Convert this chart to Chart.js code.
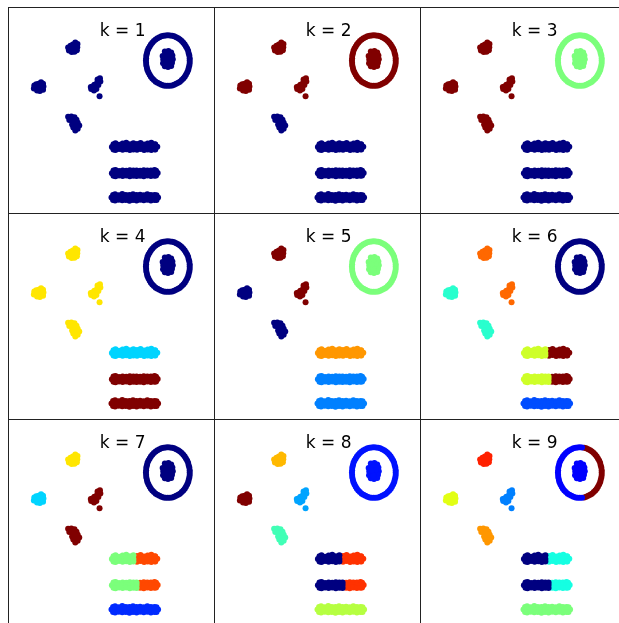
<!DOCTYPE html>
<html>
<head>
<meta charset="utf-8">
<script src="https://cdn.jsdelivr.net/npm/chart.js@4/dist/chart.umd.min.js"></script>
<style>
  html, body { margin: 0; padding: 0; background: #fff; overflow: hidden; }
  .panel {
    position: absolute;
    width: 205px;
    height: 205px;
    border: 1px solid #222;
  }
  .panel canvas { display: block; }
</style>
</head>
<body>
<script>
// number of clusters shown in each panel
const kValues = [1, 2, 3, 4, 5, 6, 7, 8, 9];

// point groups, [x, y] in data units (0..100 each axis)
const blobTop = [[28.2,81.6],[28.6,80.2],[30.0,79.4],[31.4,79.5],[32.6,80.3],[32.8,81.8],[32.9,83.4],[31.8,84.2],[30.6,83.2],[29.4,82.6],[30.4,81.0],[31.6,82.2]];
const blobLeft = [[11.0,61.0],[11.2,62.6],[12.6,60.0],[14.0,59.8],[15.6,60.4],[15.8,62.0],[14.4,61.6],[13.0,61.8],[13.4,63.4],[14.6,64.2],[15.6,63.4],[12.2,63.2]];
const blobMid = [[44.2,66.2],[43.0,65.6],[44.4,64.6],[42.8,64.0],[41.4,63.0],[43.4,62.8],[40.4,62.0],[41.8,61.6],[39.8,60.8],[41.2,60.0],[39.6,61.8],[42.4,60.8],[44.0,57.2]];
const blobLow = [[28.2,46.8],[29.8,47.0],[31.4,46.6],[32.4,45.4],[28.8,45.2],[30.6,44.6],[33.0,43.8],[33.8,42.4],[32.2,42.2],[30.8,41.4],[31.8,40.0],[30.2,43.0],[33.0,40.8]];
const core = [[76.8,79.6],[78.6,79.9],[80.0,79.2],[80.6,77.6],[80.8,75.8],[80.4,74.0],[80.0,72.4],[78.4,71.9],[76.8,72.2],[75.9,73.8],[76.0,75.6],[75.7,77.4],[78.2,77.8],[78.4,75.0],[78.0,73.6],[79.2,76.4],[77.2,76.2]];
const ringLeft = [[78.3,87.8],[77.2,87.7],[76.2,87.6],[75.1,87.3],[74.1,86.8],[73.1,86.3],[72.2,85.7],[71.3,84.9],[70.5,84.1],[69.8,83.2],[69.2,82.2],[68.6,81.1],[68.1,80.0],[67.8,78.8],[67.5,77.6],[67.4,76.3],
                  [67.3,75.1],[67.4,73.9],[67.5,72.6],[67.8,71.4],[68.1,70.2],[68.6,69.1],[69.2,68.0],[69.8,67.0],[70.5,66.1],[71.3,65.3],[72.2,64.5],[73.1,63.9],[74.1,63.4],[75.1,63.0],[76.2,62.6],[77.2,62.5],[78.3,62.4],[79.4,62.5],[79.4,87.7]];
const ringRight = [[80.5,87.6],[81.5,87.3],[82.5,86.8],[83.5,86.3],[84.4,85.7],[85.3,84.9],[86.1,84.1],[86.8,83.2],[87.4,82.2],[88.0,81.1],[88.5,80.0],[88.8,78.8],[89.1,77.6],[89.3,76.3],
                   [89.3,75.1],[89.3,73.9],[89.1,72.6],[88.8,71.4],[88.5,70.2],[88.0,69.1],[87.4,68.0],[86.8,67.0],[86.1,66.1],[85.3,65.3],[84.4,64.5],[83.5,63.9],[82.5,63.4],[81.5,63.0],[80.5,62.6]];
const bar1Left = [[51.0,33.0],[52.0,33.6],[53.8,32.8],[55.6,33.4],[57.4,33.8],[59.2,33.0],[61.0,33.5],
                  [50.2,31.7],[52.0,31.8],[53.8,31.6],[55.6,31.7],[57.4,31.9],[59.2,31.6],[61.0,31.7],
                  [51.0,30.4],[52.0,30.2],[53.8,30.6],[55.6,30.3],[57.4,30.5],[59.2,30.2],[61.0,30.4]];
const bar1Right = [[62.8,33.2],[64.6,33.7],[66.4,32.9],[68.2,33.4],[70.0,33.8],[71.8,33.1],[72.0,32.9],
                   [62.8,31.8],[64.6,31.6],[66.4,31.7],[68.2,31.8],[70.0,31.6],[71.8,31.7],[73.0,31.8],
                   [62.8,30.3],[64.6,30.6],[66.4,30.2],[68.2,30.4],[70.0,30.2],[71.8,30.5],[72.0,30.4]];
const bar2Left = [[51.0,19.8],[52.0,20.1],[53.8,19.6],[55.6,19.9],[57.4,19.7],[59.2,20.0],[61.0,19.8],[62.6,19.9],
                  [50.2,18.5],[52.0,18.6],[53.8,18.4],[55.6,18.5],[57.4,18.6],[59.2,18.4],[61.0,18.5],[62.6,18.6],
                  [51.0,17.2],[52.0,17.0],[53.8,17.3],[55.6,17.1],[57.4,17.3],[59.2,17.0],[61.0,17.2],[62.6,17.1]];
const bar2Right = [[64.4,19.7],[66.2,20.0],[68.0,19.8],[69.8,19.9],[71.6,20.1],[72.4,19.7],
                   [64.4,18.5],[66.2,18.4],[68.0,18.6],[69.8,18.5],[71.6,18.4],[73.2,18.6],
                   [64.4,17.2],[66.2,17.0],[68.0,17.3],[69.8,17.1],[71.6,17.2],[72.4,17.3]];
const bar3 = [[50.8,7.6],[51.8,7.9],[53.6,7.4],[55.4,8.0],[57.2,7.6],[59.0,7.5],[60.8,7.9],[62.6,7.5],[64.4,7.7],[66.2,7.4],[68.0,7.9],[69.8,7.5],[71.6,7.6],[72.6,7.4],
              [50.0,6.3],[51.8,6.4],[53.6,6.2],[55.4,6.3],[57.2,6.4],[59.0,6.2],[60.8,6.3],[62.6,6.4],[64.4,6.2],[66.2,6.3],[68.0,6.4],[69.8,6.2],[71.6,6.3],[73.4,6.3],
              [50.8,5.0],[51.8,4.8],[53.6,5.1],[55.4,4.9],[57.2,5.0],[59.0,4.7],[60.8,5.0],[62.6,4.8],[64.4,5.1],[66.2,4.9],[68.0,5.1],[69.8,4.8],[71.6,5.0],[72.6,5.0]];

const groups = [blobTop, blobLeft, blobMid, blobLow, core, ringLeft, ringRight, bar1Left, bar1Right, bar2Left, bar2Right, bar3];

// cluster id of each group, one row per k (same order as groups)
const clusterLabels = [
  [0,0,0,0,0,0,0,0,0,0,0,0],
  [1,1,1,0,1,1,1,0,0,0,0,0],
  [2,2,2,2,1,1,1,0,0,0,0,0],
  [2,2,2,2,0,0,0,1,1,3,3,3],
  [4,0,4,0,2,2,2,3,3,1,1,1],
  [4,2,4,2,0,0,0,3,5,3,5,1],
  [4,2,6,6,0,0,0,3,5,3,5,1],
  [5,7,2,3,1,1,1,0,6,0,6,4],
  [7,5,2,6,1,1,8,0,3,0,3,4]
];

// matplotlib "jet" colormap
function interp(seg, v) {
  for (let i = 1; i < seg.length; i++) {
    if (v <= seg[i][0]) {
      const t = (v - seg[i - 1][0]) / (seg[i][0] - seg[i - 1][0]);
      return seg[i - 1][1] + t * (seg[i][1] - seg[i - 1][1]);
    }
  }
  return seg[seg.length - 1][1];
}
function jet(v) {
  const r = interp([[0,0],[0.35,0],[0.66,1],[0.89,1],[1,0.5]], v);
  const g = interp([[0,0],[0.125,0],[0.375,1],[0.64,1],[0.91,0],[1,0]], v);
  const b = interp([[0,0.5],[0.11,1],[0.34,1],[0.65,0],[1,0]], v);
  return `rgb(${Math.round(r * 255)},${Math.round(g * 255)},${Math.round(b * 255)})`;
}

// draws the "k = n" label inside the plot
function kLabel(k) {
  return {
    id: 'kLabel',
    afterDatasetsDraw(chart) {
      const ctx = chart.ctx;
      ctx.save();
      ctx.font = '17px "DejaVu Sans"';
      ctx.fillStyle = '#000';
      ctx.textAlign = 'center';
      ctx.textBaseline = 'alphabetic';
      ctx.fillText('k = ' + k, chart.scales.x.getPixelForValue(55.6), chart.scales.y.getPixelForValue(87.3));
      ctx.restore();
    }
  };
}

kValues.forEach((k, i) => {
  const div = document.createElement('div');
  div.className = 'panel';
  div.style.left = (8 + 206 * (i % 3)) + 'px';
  div.style.top = (7 + 206 * Math.floor(i / 3)) + 'px';
  const canvas = document.createElement('canvas');
  canvas.width = 205;
  canvas.height = 205;
  div.appendChild(canvas);
  document.body.appendChild(div);

  const datasets = groups.map((pts, g) => {
    const color = jet(k > 1 ? clusterLabels[i][g] / (k - 1) : 0);
    return {
      data: pts.map(p => ({ x: p[0], y: p[1] })),
      backgroundColor: color,
      borderColor: color,
      pointBorderWidth: 0,
      pointRadius: 3,
      pointHoverRadius: 3
    };
  });

  new Chart(canvas, {
    type: 'scatter',
    data: { datasets: datasets },
    options: {
      responsive: false,
      animation: false,
      devicePixelRatio: 1,
      events: [],
      layout: { padding: 0 },
      plugins: { legend: { display: false }, tooltip: { enabled: false } },
      scales: {
        x: { type: 'linear', min: 0, max: 100, display: false },
        y: { type: 'linear', min: 0, max: 100, display: false }
      }
    },
    plugins: [kLabel(k)]
  });
});
</script>
</body>
</html>
